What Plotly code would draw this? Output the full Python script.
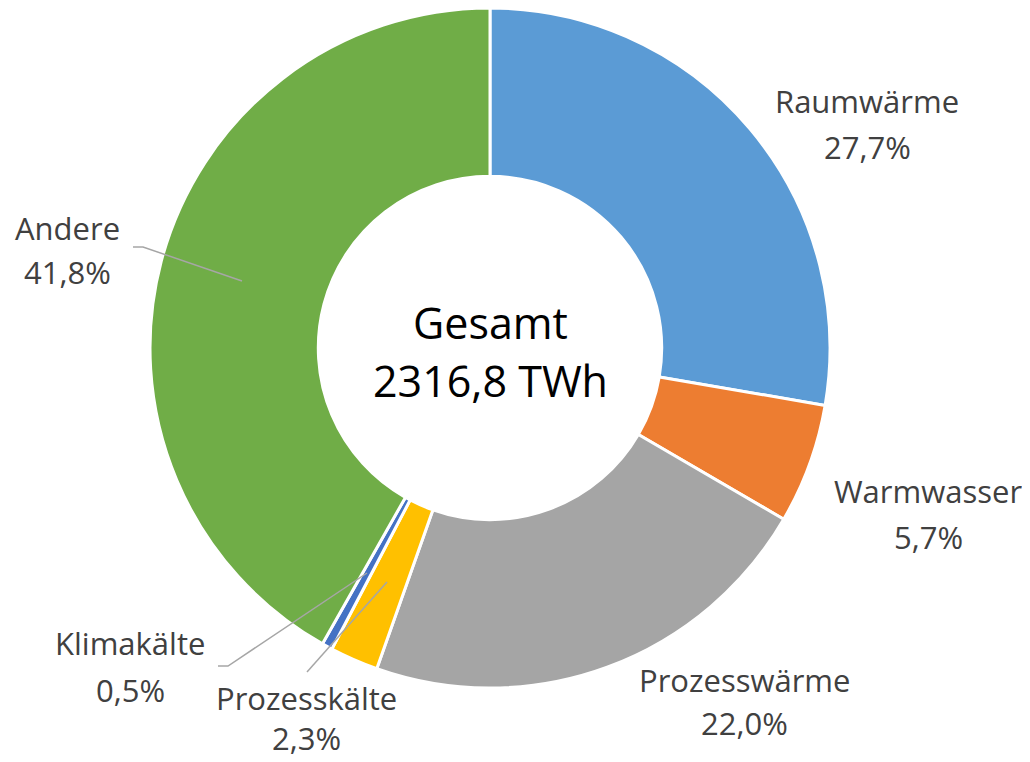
import plotly.graph_objects as go

categories = ["Raumwärme", "Warmwasser", "Prozesswärme", "Prozesskälte", "Klimakälte", "Andere"]
values = [27.7, 5.7, 22.0, 2.3, 0.5, 41.8]
colors = ["#5B9BD5", "#ED7D31", "#A5A5A5", "#FFC000", "#4472C4", "#70AD47"]
total_label = ["Gesamt", "2316,8 TWh"]

W, H = 1030, 762
OFF = 8  # page body margin

def px(x, y):
    return (x - OFF) / W, 1 - (y - OFF) / H

FONT = "Open Sans, sans-serif"

x0, y0 = px(150, 8)
x1, y1 = px(830, 688)
fig = go.Figure(go.Pie(
    labels=categories, values=values, sort=False, direction="clockwise", rotation=0,
    hole=0.505, marker=dict(colors=colors, line=dict(color="white", width=3)),
    textinfo="none", hoverinfo="label+percent", showlegend=False,
    domain=dict(x=[x0, x1], y=[y1, y0]),
))

# label centre positions in pixels (layout): (x, y of name line, y of value line)
label_pos = [(867, 101, 147), (928, 491, 537), (744, 680, 723),
             (306, 698, 738), (130, 643, 690), (67, 228, 272)]
anns = []
for cat, v, (x, ya, yb) in zip(categories, values, label_pos):
    for txt, yy in ((cat, ya), (f"{v:.1f}%".replace(".", ","), yb)):
        ax, ay = px(x, yy)
        anns.append(dict(x=ax, y=ay, xref="paper", yref="paper", showarrow=False,
                         xanchor="center", yanchor="middle", text=txt,
                         font=dict(family=FONT, size=31, color="#404040")))
for txt, yy in zip(total_label, (322, 380)):
    ax, ay = px(490, yy)
    anns.append(dict(x=ax, y=ay, xref="paper", yref="paper", showarrow=False,
                     xanchor="center", yanchor="middle", text=txt,
                     font=dict(family=FONT, size=43, color="#000000")))

leaders = [
    [(133, 247), (143, 247), (242, 281)],
    [(218, 666), (228, 666), (367, 573)],
    [(307, 672), (387, 582)],
]
shapes = []
for pts in leaders:
    path = "M " + " L ".join(f"{px(x, y)[0]},{px(x, y)[1]}" for x, y in pts)
    shapes.append(dict(type="path", path=path, xref="paper", yref="paper",
                       line=dict(color="#A6A6A6", width=1.5)))

fig.update_layout(width=W, height=H, margin=dict(l=0, r=0, t=0, b=0),
                  paper_bgcolor="white", plot_bgcolor="white",
                  annotations=anns, shapes=shapes)
fig.write_html("out.html")
